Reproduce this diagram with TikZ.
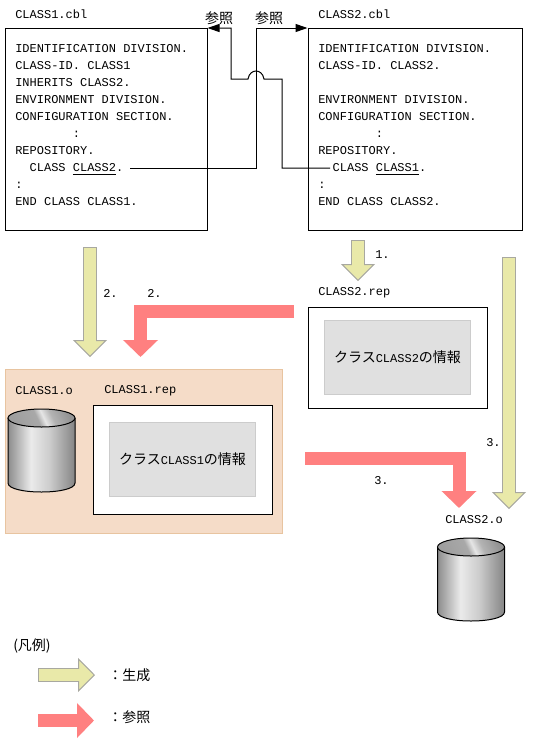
\documentclass[tikz,border=0pt]{standalone}
\usepackage{fontspec}
\setmonofont{Liberation Mono}
\newfontfamily\cjk{Noto Sans CJK JP}
\usepackage{xcolor}
\usepackage{tikz}
\usetikzlibrary{arrows.meta,positioning}
\newcommand{\jp}[1]{{\cjk\fontsize{10.5}{12}\selectfont #1}}
\definecolor{genfill}{HTML}{E9E9A9}
\definecolor{genline}{HTML}{A8A8A0}
\definecolor{reffill}{HTML}{FF8080}
\definecolor{areafill}{HTML}{F5DCC8}
\definecolor{arealine}{HTML}{E8C4A0}
\pgfdeclarehorizontalshading{drumside}{100bp}{rgb(0bp)=(0.55,0.55,0.55); rgb(25bp)=(0.55,0.55,0.55); rgb(42bp)=(0.92,0.92,0.92); rgb(56bp)=(0.80,0.80,0.80); rgb(75bp)=(0.52,0.52,0.52); rgb(100bp)=(0.52,0.52,0.52)}
\pgfdeclarehorizontalshading{drumtop}{100bp}{rgb(0bp)=(0.62,0.62,0.62); rgb(25bp)=(0.62,0.62,0.62); rgb(46bp)=(0.66,0.66,0.66); rgb(52bp)=(0.90,0.90,0.90); rgb(60bp)=(0.70,0.70,0.70); rgb(75bp)=(0.58,0.58,0.58); rgb(100bp)=(0.58,0.58,0.58)}
\begin{document}
\begin{tikzpicture}[x=.75pt,y=-.75pt,
  txt/.style={font=\ttfamily\fontsize{9}{12.75}\selectfont,inner sep=0pt},
  code/.style={txt,anchor=north west,align=left},
  lbl/.style={txt,anchor=west},
  srcbox/.style={draw,line width=.75pt,minimum width=#1,minimum height=151.5pt,anchor=north west,inner sep=0pt},
  repbox/.style={draw,fill=white,line width=.75pt,minimum width=134.25pt,anchor=north west,inner sep=0pt},
  infobox/.style={draw=black!20,fill=black!12,line width=.75pt,minimum width=109.5pt,minimum height=55.5pt,txt},
  objarea/.style={draw=arealine,fill=areafill,line width=.75pt,minimum width=207.75pt,minimum height=123pt,anchor=north west,inner sep=0pt},
  link/.style={line width=.75pt},
  gen/.style={line width=10.5pt,genline,-{Triangle[length=12.75pt,width=25.5pt,fill=genfill,color=genline,line width=.75pt]},
    postaction={draw=genfill,line width=9pt,arrows=-,shorten >=11pt,shorten <=.75pt}},
  ref/.style={line width=9.75pt,reffill,-{Triangle[length=12.75pt,width=25.5pt]}},
  drum/.pic={
    \path[shading=drumside] (0,9) -- (0,74) .. controls (0,86) and (67,86) .. (67,74) -- (67,9) -- cycle;
    \draw[line width=.75pt] (0,9) -- (0,74) .. controls (0,86) and (67,86) .. (67,74) -- (67,9);
    \draw[line width=.75pt,shading=drumtop,shading angle=25] (33.5,9) ellipse [x radius=33.5,y radius=9];
  },
  >={Triangle[length=9pt,width=6pt]}]
\useasboundingbox (0,0) rectangle (550,740);
% source files
\node[srcbox=151.5pt] (srca) at (4.5,28) {};
\node[srcbox=160.5pt] (srcb) at (307.5,28) {};
\node[lbl] (namea) at (15,14) {CLASS1.cbl};
\node[lbl] (nameb) at (318,14) {CLASS2.cbl};
\node[code] (codea) at (15,44.5) {IDENTIFICATION DIVISION.\\CLASS-ID. CLASS1\\INHERITS CLASS2.\\ENVIRONMENT DIVISION.\\CONFIGURATION SECTION.\\\hphantom{xxxxxxxx}:\\REPOSITORY.\\\hphantom{xx}CLASS \underline{CLASS2}.\\:\\END CLASS CLASS1.};
\node[code] (codeb) at (318,44.5) {IDENTIFICATION DIVISION.\\CLASS-ID. CLASS2.\\\mbox{}\\ENVIRONMENT DIVISION.\\CONFIGURATION SECTION.\\\hphantom{xxxxxxxx}:\\REPOSITORY.\\\hphantom{xx}CLASS \underline{CLASS1}.\\:\\END CLASS CLASS2.};
% references between the files
\node (refa) at (219,18) {\jp{参照}};
\node (refb) at (269,18) {\jp{参照}};
\coordinate (fromb) at (130,168);
\coordinate (froma) at (330,168);
\draw[->,link] (fromb) -- (256,168) -- (256,28) -- (srcb.north west);
\draw[->,link] (froma) -- (282,168) -- (282,79) -- (264,79) .. controls (263,73) and (259,71) .. (256,71) .. controls (253,71) and (249,73) .. (248,79) -- (231,79) -- (231,28) -- (srca.north east);
% object area
\node[objarea] (area) at (4.5,369) {};
\node[lbl] (obja) at (15,391) {CLASS1.o};
\node[lbl] (repa) at (104,391) {CLASS1.rep};
\pic (druma) at (8,409) {drum};
\node[repbox,minimum height=81.75pt] (boxa) at (92.5,404.5) {};
\node[infobox] (infoa) at (boxa.center) {\jp{クラス}CLASS1\jp{の情報}};
% repository of class 2
\node[lbl] (repb) at (318,293) {CLASS2.rep};
\node[repbox,minimum height=75.75pt] (boxb) at (307.5,306.5) {};
\node[infobox] (infob) at (boxb.center) {\jp{クラス}CLASS2\jp{の情報}};
\node[lbl] (objb) at (445,520) {CLASS2.o};
\pic (drumb) at (437.5,538) {drum};
% generated
\coordinate (gena) at (90,247); \coordinate (genat) at (90,357);
\coordinate (genb) at (358,240); \coordinate (genbt) at (358,281);
\coordinate (genc) at (509,257); \coordinate (genct) at (509,509);
\draw[gen] (gena) -- (genat);
\draw[gen] (genb) -- (genbt);
\draw[gen] (genc) -- (genct);
% referenced
\coordinate (refc) at (294,311.5); \coordinate (refct) at (140.5,357);
\coordinate (refd) at (305,458); \coordinate (refdt) at (459,508);
\draw[ref] (refc) -| (refct);
\draw[ref] (refd) -| (refdt);
\node[lbl] (stepa) at (375,255) {1.};
\node[lbl] (stepb) at (103,293) {2.};
\node[lbl] (stepc) at (147,293) {2.};
\node[lbl] (stepd) at (486,443) {3.};
\node[lbl] (stepe) at (374,481) {3.};
% legend
\node[anchor=west,inner sep=0pt] (legend) at (13,646) {\jp{(凡例)}};
\coordinate (lega) at (38,675); \coordinate (legat) at (95,675);
\coordinate (legb) at (38,720.5); \coordinate (legbt) at (94,720.5);
\draw[gen] (lega) -- (legat);
\draw[ref] (legb) -- (legbt);
\node[anchor=west,inner sep=0pt] (gentxt) at (108,675) {\jp{：生成}};
\node[anchor=west,inner sep=0pt] (reftxt) at (108,717) {\jp{：参照}};
\end{tikzpicture}
\end{document}
